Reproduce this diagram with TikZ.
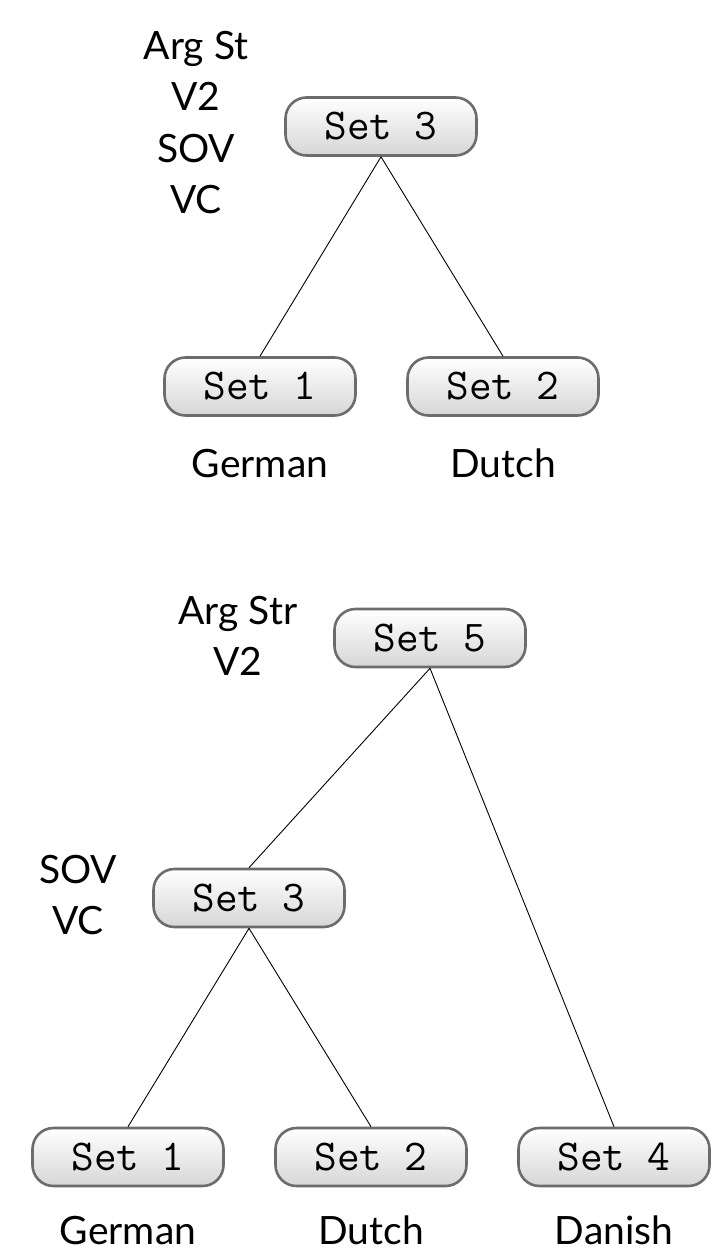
\documentclass[tikz,border=0pt]{standalone}
\usepackage{fontspec}
\setmainfont{Lato}
\begin{document}
\begin{tikzpicture}[x=1pt,y=-1pt,
  setbox/.style={draw=gray!85!black, line width=2.6pt, rounded corners=21pt,
    top color=white, bottom color=gray!32, minimum width=191pt, minimum height=58pt,
    inner sep=0pt, font=\ttfamily\fontsize{44}{50}\selectfont},
  lbl/.style={inner sep=0pt, align=center, font=\fontsize{39}{51.5}\selectfont},
  edge/.style={line width=0.9pt, black}]
\useasboundingbox (0,0) rectangle (727,1252);

% upper tree
\node[setbox] (t3) at (381,126.5) {Set 3};
\node[setbox] (t1) at (260,386.5) {Set 1};
\node[setbox] (t2) at (503,386.5) {Set 2};
\node[lbl] (tf) at (196,122.5) {Arg St\\V2\\SOV\\VC};
\node[lbl, anchor=base] (tg) at (260,477) {German};
\node[lbl, anchor=base] (td) at (503,477) {Dutch};
\draw[edge] (t3.south) -- (t1.north);
\draw[edge] (t3.south) -- (t2.north);

% lower tree
\node[setbox] (b5) at (430,638) {Set 5};
\node[setbox] (b3) at (249,898) {Set 3};
\node[setbox] (b1) at (128,1157) {Set 1};
\node[setbox] (b2) at (371,1157) {Set 2};
\node[setbox] (b4) at (614,1157) {Set 4};
\node[lbl] (bf) at (238,636) {Arg Str\\V2};
\node[lbl] (bg) at (78,895) {SOV\\VC};
\node[lbl, anchor=base] (bgl) at (128,1244) {German};
\node[lbl, anchor=base] (bdl) at (371,1244) {Dutch};
\node[lbl, anchor=base] (bdn) at (614,1244) {Danish};
\draw[edge] (b5.south) -- (b3.north);
\draw[edge] (b5.south) -- (b4.north);
\draw[edge] (b3.south) -- (b1.north);
\draw[edge] (b3.south) -- (b2.north);
\end{tikzpicture}
\end{document}
